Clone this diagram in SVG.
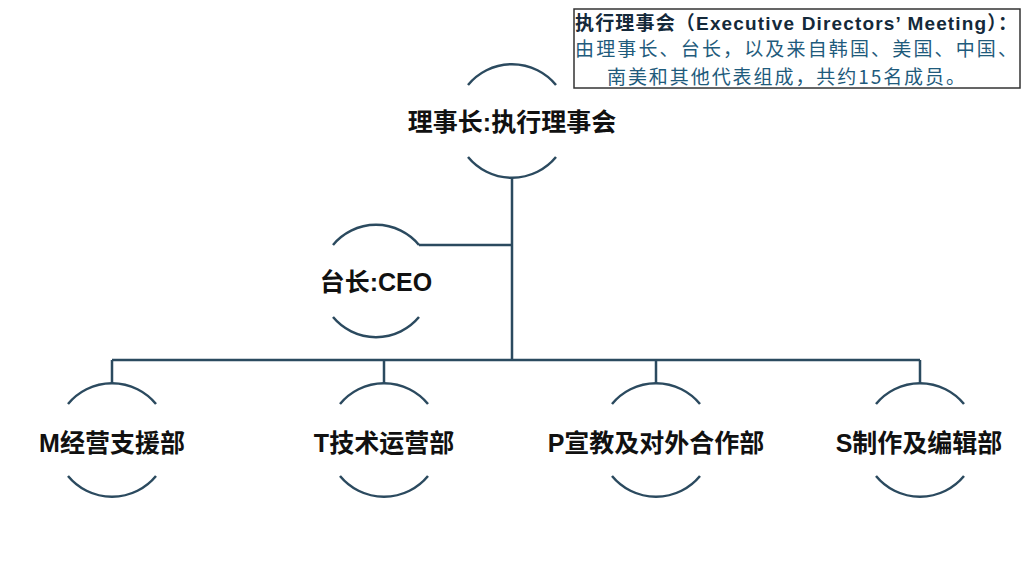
<svg xmlns="http://www.w3.org/2000/svg" width="1024" height="563" viewBox="0 0 1024 563">
<style>
.arc{fill:none;stroke:#2b4a5f;stroke-width:2.5}
.con{fill:none;stroke:#2b4a5f;stroke-width:2.5}
.lbl{font-family:"Liberation Sans","Noto Sans CJK SC",sans-serif;font-weight:bold;font-size:25px;fill:#111;text-anchor:middle}
.t1{font-family:"Liberation Sans","Noto Sans CJK SC",sans-serif;font-weight:bold;font-size:19px;fill:#14293a}
.t2{font-family:"Noto Sans CJK SC",sans-serif;font-size:19px;fill:#1f5b7c}
</style>
<rect width="1024" height="563" fill="#fff"/>
<g id="connectors">
<path class="con" d="M512 178 V360 M419 245 H512 M112 360 H920 M112 360 V383 M384 360 V383 M656 360 V383 M920 360 V383"/>
</g>
<g id="node-top">
<path class="arc" d="M468 85 A57 57 0 0 1 556 85 M468 157 A57 57 0 0 0 556 157"/>
<text class="lbl" x="512" y="131">理事长:执行理事会</text>
</g>
<g id="node-ceo">
<path class="arc" d="M333 245 A56 56 0 0 1 419 245 M333 317 A56 56 0 0 0 419 317"/>
<text class="lbl" x="376" y="291">台长:CEO</text>
</g>
<g id="node-m">
<path class="arc" d="M68 404 A57 57 0 0 1 156 404 M68 476 A57 57 0 0 0 156 476"/>
<text class="lbl" x="112" y="452">M经营支援部</text>
</g>
<g id="node-t">
<path class="arc" d="M340 404 A57 57 0 0 1 428 404 M340 476 A57 57 0 0 0 428 476"/>
<text class="lbl" x="384" y="452">T技术运营部</text>
</g>
<g id="node-p">
<path class="arc" d="M612 404 A57 57 0 0 1 700 404 M612 476 A57 57 0 0 0 700 476"/>
<text class="lbl" x="656" y="452">P宣教及对外合作部</text>
</g>
<g id="node-s">
<path class="arc" d="M876 404 A57 57 0 0 1 964 404 M876 476 A57 57 0 0 0 964 476"/>
<text class="lbl" x="919" y="452">S制作及编辑部</text>
</g>
<g id="note">
<rect x="574" y="9" width="446" height="79" fill="#fff" stroke="#333" stroke-width="1.5"/>
<text class="t1" x="575" y="30" textLength="442" lengthAdjust="spacing">执行理事会（Executive Directors’ Meeting）：</text>
<text class="t2" x="575" y="56" textLength="442" lengthAdjust="spacing">由理事长、台长，以及来自韩国、美国、中国、</text>
<text class="t2" x="607" y="84" textLength="358" lengthAdjust="spacing">南美和其他代表组成，共约15名成员。</text>
</g>
</svg>
